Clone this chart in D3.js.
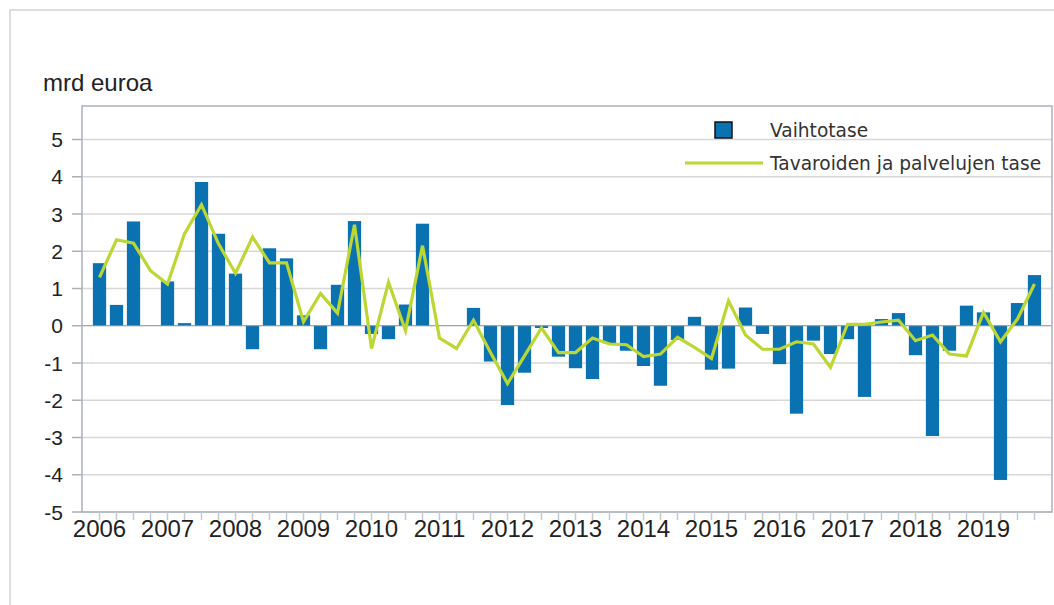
<!DOCTYPE html>
<html>
<head>
<meta charset="utf-8">
<script src="https://cdn.jsdelivr.net/npm/d3@7"></script>
<style>
  body { margin: 0; background: #fff; }
  svg { display: block; }
  .ax text { font-family: "Liberation Sans", Arial, sans-serif; fill: #222; }
  .legend text { font-family: "DejaVu Sans", Verdana, sans-serif; font-size: 18.6px; fill: #333; }
</style>
</head>
<body>
<svg id="chart" width="1054" height="605"></svg>
<script>
// quarterly values, 2006 Q1 .. 2019 Q4 (mrd euroa)
const years = d3.range(2006, 2020);
const quarters = years.flatMap(y => [1, 2, 3, 4].map(q => y + 'Q' + q));

const vaihtotase = [
    1.68, 0.56, 2.80, 0.00,
    1.19, 0.07, 3.86, 2.47,
    1.40, -0.63, 2.08, 1.81,
    0.28, -0.63, 1.10, 2.81,
    -0.22, -0.36, 0.57, 2.74,
    0.00, 0.00, 0.48, -0.96,
    -2.13, -1.26, -0.06, -0.83,
    -1.14, -1.43, -0.47, -0.67,
    -1.08, -1.61, -0.38, 0.24,
    -1.18, -1.15, 0.49, -0.22,
    -1.03, -2.36, -0.40, -0.76,
    -0.36, -1.91, 0.18, 0.34,
    -0.79, -2.96, -0.67, 0.54,
    0.36, -4.14, 0.61, 1.36
];

const tavaratase = [
    1.30, 2.31, 2.22, 1.48,
    1.12, 2.47, 3.25, 2.20,
    1.41, 2.38, 1.69, 1.69,
    0.11, 0.87, 0.34, 2.71,
    -0.61, 1.17, -0.13, 2.15,
    -0.33, -0.61, 0.15, -0.72,
    -1.55, -0.81, -0.06, -0.72,
    -0.72, -0.33, -0.49, -0.51,
    -0.83, -0.76, -0.31, -0.58,
    -0.88, 0.67, -0.25, -0.63,
    -0.63, -0.43, -0.49, -1.12,
    0.04, 0.04, 0.10, 0.15,
    -0.40, -0.25, -0.76, -0.81,
    0.36, -0.43, 0.18, 1.12
];

const yTicks = [-5, -4, -3, -2, -1, 0, 1, 2, 3, 4, 5];
const yearLabels = years.map(String);
const unitLabel = 'mrd euroa';
const seriesNames = ['Vaihtotase', 'Tavaroiden ja palvelujen tase'];

const barColor = '#0a72b0';
const lineColor = '#bcd634';

const svg = d3.select('#chart');

const plotLeft = 82, plotRight = 1052, plotTop = 106, plotBottom = 512;

// outer frame of the figure
svg.append('path')
    .attr('d', 'M10,605 L10,10 L1054,10')
    .attr('fill', 'none')
    .attr('stroke', '#d3d3d3')
    .attr('stroke-width', 1.5);

let x = d3.scaleBand()
    .domain(quarters)
    .range([plotLeft, plotRight])
    .paddingInner(0.22)
    .paddingOuter(0.64);

let y = d3.scaleLinear()
    .domain([-5, 5.9])
    .range([plotBottom, plotTop]);

// grid
svg.append('g')
    .selectAll('line')
    .data(yTicks.filter(d => d != 0))
    .enter()
    .append('line')
    .attr('x1', plotLeft)
    .attr('x2', plotRight)
    .attr('y1', d => y(d))
    .attr('y2', d => y(d))
    .attr('stroke', '#d8d8d8')
    .attr('stroke-width', 1.5);

// bars
svg.append('g')
    .selectAll('rect')
    .data(vaihtotase)
    .enter()
    .append('rect')
    .attr('x', (d, i) => x(quarters[i]))
    .attr('width', x.bandwidth())
    .attr('y', d => Math.min(y(d), y(0)))
    .attr('height', d => Math.abs(y(d) - y(0)))
    .attr('fill', barColor);

// zero line
svg.append('line')
    .attr('x1', plotLeft)
    .attr('x2', plotRight)
    .attr('y1', y(0))
    .attr('y2', y(0))
    .attr('stroke', '#8a8a8a')
    .attr('stroke-width', 1);

// goods and services line
let line = d3.line()
    .x((d, i) => x(quarters[i]) + x.bandwidth() / 2)
    .y(d => y(d));

svg.append('path')
    .datum(tavaratase)
    .attr('d', line)
    .attr('fill', 'none')
    .attr('stroke', lineColor)
    .attr('stroke-width', 3.2)
    .attr('stroke-linejoin', 'miter');

// plot frame
svg.append('rect')
    .attr('x', plotLeft)
    .attr('y', plotTop)
    .attr('width', plotRight - plotLeft)
    .attr('height', plotBottom - plotTop)
    .attr('fill', 'none')
    .attr('stroke', '#a9b1b8')
    .attr('stroke-width', 1.5);

// y axis
let yAxis = svg.append('g').attr('class', 'ax');
yAxis.selectAll('line')
    .data(yTicks)
    .enter()
    .append('line')
    .attr('x1', plotLeft - 10)
    .attr('x2', plotLeft)
    .attr('y1', d => y(d))
    .attr('y2', d => y(d))
    .attr('stroke', '#a9b1b8')
    .attr('stroke-width', 1.5);
yAxis.selectAll('text')
    .data(yTicks)
    .enter()
    .append('text')
    .attr('x', plotLeft - 19)
    .attr('y', d => y(d))
    .attr('dy', '0.36em')
    .attr('text-anchor', 'end')
    .style('font-size', '21px')
    .text(d => String(d));

// x axis
let xAxis = svg.append('g').attr('class', 'ax');
xAxis.selectAll('line')
    .data(quarters)
    .enter()
    .append('line')
    .attr('x1', d => x(d) + x.bandwidth() / 2)
    .attr('x2', d => x(d) + x.bandwidth() / 2)
    .attr('y1', plotBottom)
    .attr('y2', plotBottom + 8)
    .attr('stroke', '#c4c9ce')
    .attr('stroke-width', 1.5);
xAxis.selectAll('text')
    .data(yearLabels)
    .enter()
    .append('text')
    .attr('x', d => x(d + 'Q1') + x.bandwidth() / 2)
    .attr('y', plotBottom + 25)
    .attr('text-anchor', 'middle')
    .style('font-size', '24px')
    .text(d => d);

// unit label
svg.append('text')
    .attr('x', 43)
    .attr('y', 91)
    .style('font-family', '"Liberation Sans", Arial, sans-serif')
    .style('font-size', '24px')
    .style('fill', '#222')
    .text(unitLabel);

// legend
let legend = svg.append('g').attr('class', 'legend');
legend.append('rect')
    .attr('x', 715)
    .attr('y', 122)
    .attr('width', 17)
    .attr('height', 16)
    .attr('fill', barColor)
    .attr('stroke', '#111')
    .attr('stroke-width', 1.5);
legend.append('text')
    .attr('x', 770)
    .attr('y', 137)
    .text(seriesNames[0]);
legend.append('line')
    .attr('x1', 685)
    .attr('x2', 763)
    .attr('y1', 163)
    .attr('y2', 163)
    .attr('stroke', lineColor)
    .attr('stroke-width', 3);
legend.append('text')
    .attr('x', 770)
    .attr('y', 170)
    .text(seriesNames[1]);
</script>
</body>
</html>
